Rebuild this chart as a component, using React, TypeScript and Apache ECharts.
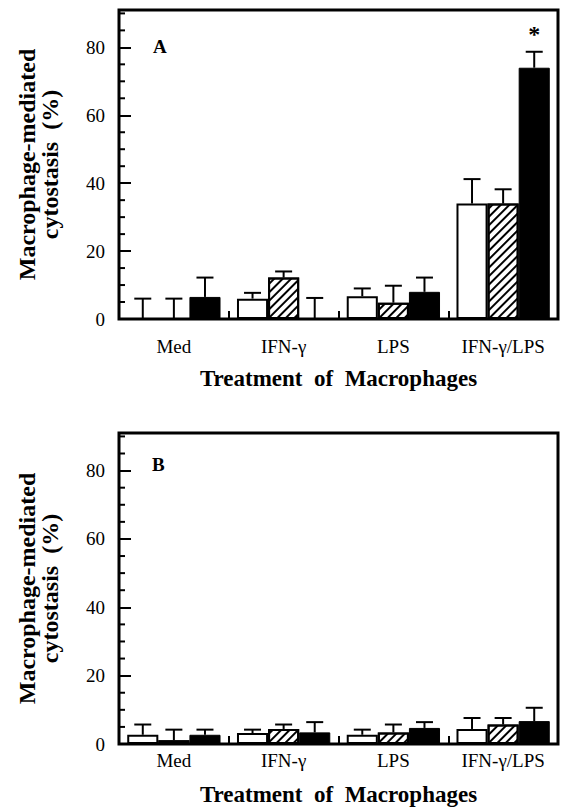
import React, { useEffect, useRef } from 'react';
import * as echarts from 'echarts';

const categories = ['Med', 'IFN-γ', 'LPS', 'IFN-γ/LPS'];
const yTickValues = [0, 20, 40, 60, 80];
const yMinorTickValues = [5, 10, 15, 25, 30, 35, 45, 50, 55, 65, 70, 75, 85, 90];
const yMax = 91;

// Panel A
const aWhite = [0, 6, 6.7, 34];
const aWhiteSd = [6, 1.7, 2.3, 7.2];
const aHatched = [0, 12.2, 4.8, 34];
const aHatchedSd = [6, 1.8, 5, 4.2];
const aBlack = [6.5, 0, 8, 74];
const aBlackSd = [5.7, 6.2, 4.2, 4.7];
const aSig = ['', '', '', '*'];

// Panel B
const bWhite = [2.7, 3.2, 2.7, 4.4];
const bWhiteSd = [3.0, 1.0, 1.5, 3.2];
const bHatched = [1.1, 4.4, 3.4, 5.7];
const bHatchedSd = [3.1, 1.3, 2.3, 1.9];
const bBlack = [2.7, 3.4, 4.7, 6.7];
const bBlackSd = [1.5, 3.0, 1.7, 3.9];
const bSig = ['', '', '', ''];

const FONT = '"Liberation Serif", "Times New Roman", serif';
const CAT_GAP = 0.15;

const hatchDecal = {
  symbol: 'rect',
  symbolSize: 1,
  symbolKeepAspect: false,
  color: '#000',
  backgroundColor: '#fff',
  dashArrayX: [1, 0],
  dashArrayY: [1.5, 3.5],
  rotation: -Math.PI / 4,
};

function barSeries(vals: number[], kind: number, xi: number, yi: number) {
  const base: any = {
    type: 'bar',
    xAxisIndex: xi,
    yAxisIndex: yi,
    data: vals,
    barGap: '0%',
    barCategoryGap: CAT_GAP * 100 + '%',
    z: 2,
  };
  if (kind === 0) base.itemStyle = { color: '#fff', borderColor: '#000', borderWidth: 2 };
  if (kind === 1) base.itemStyle = { color: '#fff', borderColor: '#000', borderWidth: 2, decal: hatchDecal };
  if (kind === 2) base.itemStyle = { color: '#000', borderColor: '#000', borderWidth: 1 };
  return base;
}

function errSeries(groups: number[][], sds: number[][], sig: string[], xi: number, yi: number) {
  const data: any[] = [];
  groups.forEach((vals, k) => {
    vals.forEach((v, i) => {
      data.push([i, v, v + sds[k][i], k, k === 2 ? (sig[i] ? 1 : 0) : 0]);
    });
  });
  return {
    type: 'custom',
    xAxisIndex: xi,
    yAxisIndex: yi,
    z: 5,
    silent: true,
    data,
    renderItem: (params: any, api: any) => {
      const cat = api.value(0);
      const v = api.value(1);
      const top = api.value(2);
      const k = api.value(3);
      const star = api.value(4);
      const band = api.size([1, 0])[0];
      const bw = (band * (1 - CAT_GAP)) / 3;
      const cx = api.coord([cat, 0])[0] + (k - 1) * bw;
      const y0 = api.coord([cat, v])[1];
      const y1 = api.coord([cat, top])[1];
      const children: any[] = [
        { type: 'line', shape: { x1: cx, y1: y0, x2: cx, y2: y1 }, style: { stroke: '#000', lineWidth: 2 } },
        { type: 'line', shape: { x1: cx - 8.5, y1: y1, x2: cx + 8.5, y2: y1 }, style: { stroke: '#000', lineWidth: 2 } },
      ];
      if (star) {
        children.push({
          type: 'text',
          style: {
            text: '*',
            x: cx,
            y: y1 - 6,
            align: 'center',
            verticalAlign: 'bottom',
            font: `bold 24px ${FONT}`,
            fill: '#000',
          },
        });
      }
      return { type: 'group', children };
    },
  };
}

function minorTickSeries(xi: number, yi: number) {
  return {
    type: 'custom',
    xAxisIndex: xi,
    yAxisIndex: yi,
    z: 6,
    silent: true,
    clip: false,
    data: yMinorTickValues.map((v) => [0, v]),
    renderItem: (params: any, api: any) => {
      const y = api.coord([0, api.value(1)])[1];
      const x0 = params.coordSys.x;
      return {
        type: 'line',
        shape: { x1: x0, y1: y, x2: x0 + 6, y2: y },
        style: { stroke: '#000', lineWidth: 2 },
      };
    },
  };
}

function xAxisCfg(grid: number, labelMargin: number, nameGap: number) {
  return {
    type: 'category',
    gridIndex: grid,
    position: 'bottom',
    data: categories,
    boundaryGap: true,
    axisLine: { show: false },
    axisTick: { show: true, inside: true, length: 8, interval: 0, lineStyle: { color: '#000', width: 2 } },
    axisLabel: { interval: 0, margin: labelMargin, color: '#000', fontFamily: FONT, fontSize: 19 },
    name: 'Treatment  of  Macrophages',
    nameLocation: 'middle',
    nameGap,
    nameTextStyle: { color: '#000', fontFamily: FONT, fontWeight: 'bold', fontSize: 23 },
    splitLine: { show: false },
  };
}

function yMajor(grid: number) {
  return {
    type: 'value',
    gridIndex: grid,
    position: 'left',
    min: 0,
    max: yMax,
    interval: 20,
    axisLine: { show: false },
    axisTick: { show: true, inside: true, length: 12, lineStyle: { color: '#000', width: 2 } },
    axisLabel: {
      margin: 14,
      color: '#000',
      fontFamily: FONT,
      fontSize: 19,
      formatter: (v: number) => (yTickValues.indexOf(v) >= 0 ? String(v) : ''),
    },
    splitLine: { show: false },
    name: 'Macrophage-mediated\ncytostasis  (%)',
    nameLocation: 'middle',
    nameRotate: 90,
    nameGap: 58,
    nameTextStyle: { color: '#000', fontFamily: FONT, fontWeight: 'bold', fontSize: 24, lineHeight: 23 },
  };
}

export default function App() {
  const ref = useRef<HTMLDivElement>(null);
  useEffect(() => {
    if (!ref.current) return;
    const chart = echarts.init(ref.current, null, { renderer: 'svg' });
    const gridStyle = { show: true, borderColor: '#000', borderWidth: 3, backgroundColor: 'transparent' };
    chart.setOption({
      animation: false,
      backgroundColor: '#fff',
      grid: [
        { left: 119, top: 10, right: 4, height: 309, ...gridStyle },
        { left: 119, top: 433, right: 4, height: 311, ...gridStyle },
      ],
      xAxis: [xAxisCfg(0, 18, 48), xAxisCfg(1, 7, 39)],
      yAxis: [yMajor(0), yMajor(1)],
      graphic: [
        { type: 'text', left: 153, top: 37, style: { text: 'A', font: `bold 19px ${FONT}`, fill: '#000' } },
        { type: 'text', left: 152, top: 455, style: { text: 'B', font: `bold 19px ${FONT}`, fill: '#000' } },
      ],
      series: [
        barSeries(aWhite, 0, 0, 0),
        barSeries(aHatched, 1, 0, 0),
        barSeries(aBlack, 2, 0, 0),
        errSeries([aWhite, aHatched, aBlack], [aWhiteSd, aHatchedSd, aBlackSd], aSig, 0, 0),
        minorTickSeries(0, 0),
        barSeries(bWhite, 0, 1, 1),
        barSeries(bHatched, 1, 1, 1),
        barSeries(bBlack, 2, 1, 1),
        errSeries([bWhite, bHatched, bBlack], [bWhiteSd, bHatchedSd, bBlackSd], bSig, 1, 1),
        minorTickSeries(1, 1),
      ],
    });
    return () => chart.dispose();
  }, []);
  return <div ref={ref} style={{ position: 'absolute', left: 0, top: 0, width: 562, height: 807 }} />;
}
